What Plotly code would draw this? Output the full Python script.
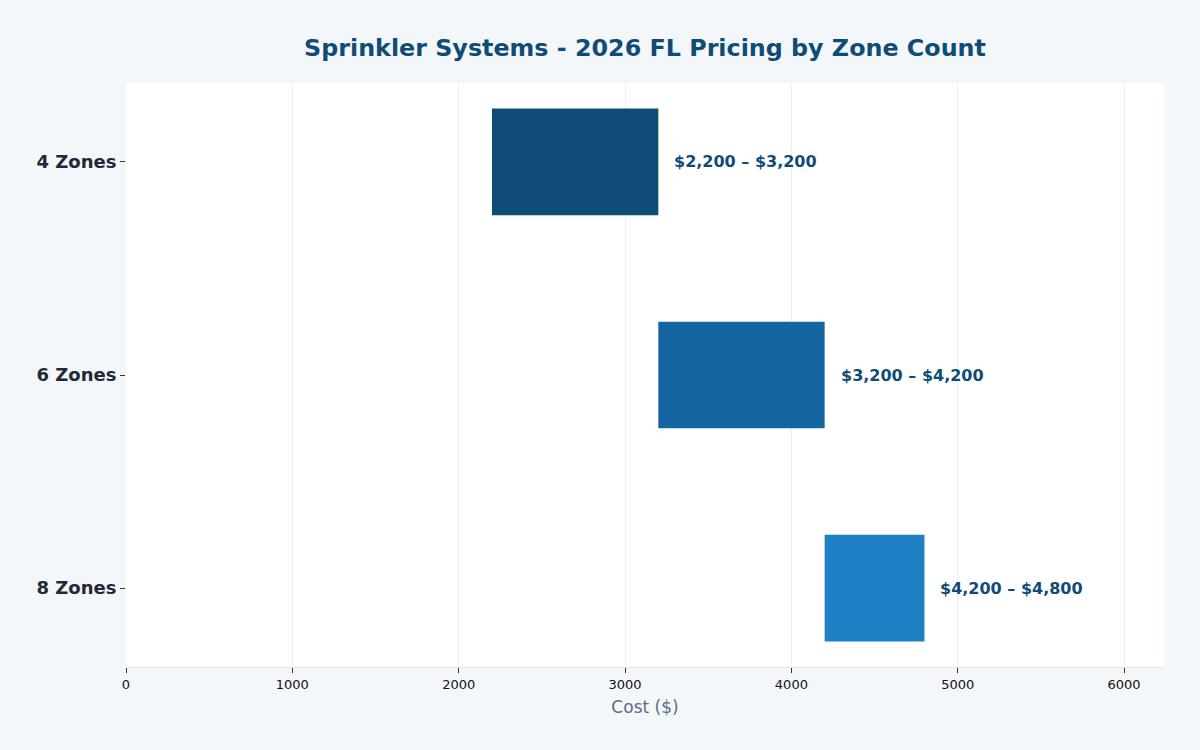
import plotly.graph_objects as go

categories = ["4 Zones", "6 Zones", "8 Zones"]
low_values = [2200, 3200, 4200]
high_values = [3200, 4200, 4800]
bar_colors = ["#0f4c75", "#1565a0", "#1e80c4"]
labels = [f"${lo:,} – ${hi:,}" for lo, hi in zip(low_values, high_values)]

fig = go.Figure()
fig.add_trace(go.Bar(
    y=categories,
    x=[hi - lo for lo, hi in zip(low_values, high_values)],
    base=low_values,
    orientation="h",
    marker=dict(color=bar_colors, line=dict(width=0)),
    width=0.5,
    hoverinfo="skip",
))

for cat, hi, lab in zip(categories, high_values, labels):
    fig.add_annotation(
        x=hi, y=cat, xref="x", yref="y",
        text=f"<b>{lab}</b>", showarrow=False,
        xanchor="left", yanchor="middle", xshift=14,
        font=dict(family="DejaVu Sans", size=16, color="#0f4c75"),
    )

fig.update_layout(
    width=1200, height=750,
    paper_bgcolor="#f4f7fa",
    plot_bgcolor="#ffffff",
    margin=dict(l=126, r=36, t=83, b=83),
    showlegend=False,
    font=dict(family="DejaVu Sans", color="#1f2a36"),
    title=dict(
        text="<b>Sprinkler Systems - 2026 FL Pricing by Zone Count</b>",
        x=0.5, xref="paper", xanchor="center",
        y=0.937, yref="container", yanchor="middle",
        font=dict(family="DejaVu Sans", size=23.8, color="#0f4c75"),
    ),
    xaxis=dict(
        range=[0, 6240],
        tickvals=[0, 1000, 2000, 3000, 4000, 5000, 6000],
        showgrid=True, gridcolor="#edf0f3", gridwidth=1,
        zeroline=False,
        showline=True, linecolor="#e3e8ee", linewidth=1,
        ticks="outside", ticklen=5, tickcolor="#333333",
        tickfont=dict(size=13, color="#111111"),
        title=dict(text="Cost ($)", font=dict(size=17, color="#5a6e84"), standoff=10),
    ),
    yaxis=dict(
        categoryorder="array", categoryarray=categories,
        range=[2.37, -0.37],
        showgrid=False, zeroline=False,
        ticks="outside", ticklen=5, tickcolor="#333333",
        tickfont=dict(size=18, color="#1f2a36", weight="bold"),
    ),
)

fig.write_html("out.html")
